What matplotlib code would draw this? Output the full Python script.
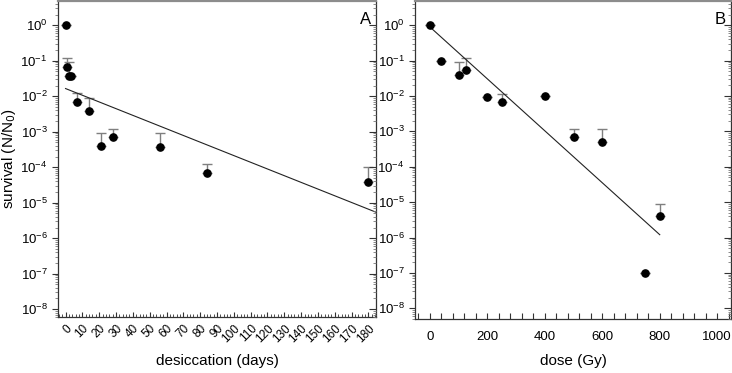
import numpy as np
import matplotlib
matplotlib.use("Agg")
import matplotlib.pyplot as plt
import matplotlib.ticker as ticker

plt.rcParams['font.family'] = ['Liberation Sans', 'DejaVu Sans']

# panel A: desiccation
days = [0, 1, 2, 3, 7, 14, 21, 28, 56, 84, 180]
surv_a = [1.0, 0.067, 0.037, 0.037, 0.0069, 0.0038, 4.0e-4, 6.9e-4, 3.7e-4, 7.1e-5, 3.9e-5]
err_a = [0, 0.053, 0.053, 0, 0.0051, 0.0051, 5.3e-4, 5.1e-4, 5.6e-4, 4.9e-5, 6.1e-5]
fit_days = [0, 184.5]
fit_a = [0.0165, 5.4e-6]

# panel B: gamma dose
dose = [0, 40, 100, 125, 200, 250, 400, 500, 600, 750, 800]
surv_b = [1.0, 0.095, 0.038, 0.053, 0.0096, 0.0068, 0.0098, 6.9e-4, 5.0e-4, 1.0e-7, 4.1e-6]
err_b = [0, 0, 0.051, 0.062, 0, 0.0048, 0, 5.1e-4, 7.0e-4, 0, 5.0e-6]
fit_dose = [0, 800]
fit_b = [0.89, 1.2e-6]

fig = plt.figure(figsize=(7.32, 3.73), dpi=100)
axA = fig.add_axes([0.0792, 0.150, 0.4345, 0.847])
axB = fig.add_axes([0.567, 0.145, 0.4316, 0.852])

spine_col = '#333333'
err_col = '#7f7f7f'


def setup(ax, ylim):
    ax.set_yscale('log')
    ax.set_ylim(*ylim)
    ax.yaxis.set_major_locator(ticker.LogLocator(base=10, numticks=20))
    ax.yaxis.set_minor_locator(ticker.LogLocator(base=10, subs=np.arange(2, 10), numticks=20))
    ax.yaxis.set_minor_formatter(ticker.NullFormatter())
    ax.tick_params(axis='y', which='major', direction='out', length=4, width=0.8,
                   colors=spine_col, labelsize=9.5, labelcolor='black')
    ax.tick_params(axis='y', which='minor', direction='out', length=2.2, width=0.6,
                   colors='#777777')
    ax.tick_params(axis='x', which='both', direction='in', colors=spine_col, labelcolor='black')
    for s in ['left', 'right', 'bottom']:
        ax.spines[s].set_color(spine_col)
        ax.spines[s].set_linewidth(0.9)
    ax.spines['top'].set_color('#8c8c8c')
    ax.spines['top'].set_linewidth(1.6)
    tw = ax.twinx()
    tw.set_yscale('log')
    tw.set_ylim(*ylim)
    tw.yaxis.set_major_locator(ticker.LogLocator(base=10, numticks=20))
    tw.yaxis.set_minor_locator(ticker.LogLocator(base=10, subs=np.arange(2, 10), numticks=20))
    tw.tick_params(axis='y', which='major', direction='in', length=5, width=0.8,
                   colors=spine_col, labelright=False)
    tw.tick_params(axis='y', which='minor', direction='in', length=2.5, width=0.6,
                   colors='#777777', labelright=False)
    for s in tw.spines.values():
        s.set_visible(False)


def draw(ax, x, y, e, fx, fy):
    ax.errorbar(x, y, yerr=[np.zeros(len(e)), e], fmt='none', ecolor=err_col,
                elinewidth=1.0, capsize=3.5, capthick=1.0)
    ax.plot(x, y, 'o', color='black', markersize=5.2, zorder=3)
    ax.plot(fx, fy, '-', color='#222222', lw=0.8)


# panel A
setup(axA, (6e-9, 4.8))
draw(axA, days, surv_a, err_a, fit_days, fit_a)
axA.set_xlim(-4.5, 184.5)
axA.xaxis.set_major_locator(ticker.MultipleLocator(10))
axA.xaxis.set_minor_locator(ticker.MultipleLocator(2))
axA.tick_params(axis='x', which='major', length=3.5, width=0.8, labelsize=8.5, pad=4)
axA.tick_params(axis='x', which='minor', length=2, width=0.6)
for lab in axA.get_xticklabels():
    lab.set_rotation(45)
    lab.set_ha('right')
    lab.set_rotation_mode('anchor')
axA.set_xlabel('desiccation (days)', fontsize=11)
axA.xaxis.set_label_coords(0.5, -0.118)
axA.set_ylabel('survival (N/N$_0$)', fontsize=11)
axA.yaxis.set_label_coords(-0.125, 0.5)
axA.text(0.985, 0.965, 'A', transform=axA.transAxes, ha='right', va='top', fontsize=12)

# panel B
setup(axB, (5e-9, 4.8))
draw(axB, dose, surv_b, err_b, fit_dose, fit_b)
axB.set_xlim(-52, 1048)
axB.xaxis.set_major_locator(ticker.MultipleLocator(200))
axB.xaxis.set_minor_locator(ticker.MultipleLocator(40))
axB.tick_params(axis='x', which='major', length=4, width=0.8, labelsize=9.5, pad=9)
axB.tick_params(axis='x', which='minor', length=4, width=0.8)
axB.set_xlabel('dose (Gy)', fontsize=11)
axB.xaxis.set_label_coords(0.5, -0.110)
axB.text(0.985, 0.965, 'B', transform=axB.transAxes, ha='right', va='top', fontsize=12)

fig.savefig('out.png', dpi=100)
